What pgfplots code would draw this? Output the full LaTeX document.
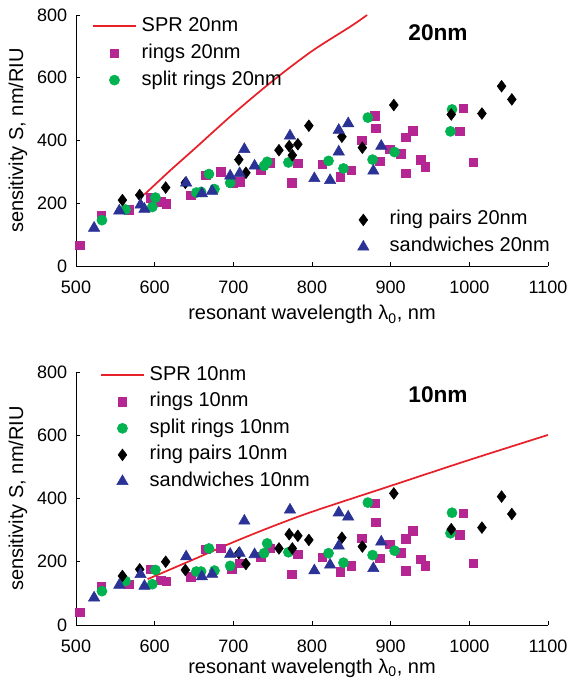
\documentclass[border=0pt]{standalone}
\usepackage{fontspec}
\setmainfont{Liberation Sans}
\usepackage{pgfplots}
\pgfplotsset{compat=1.18}
\definecolor{mag}{RGB}{182,38,146}
\definecolor{grn}{RGB}{0,178,80}
\definecolor{blu}{RGB}{43,50,150}
\definecolor{sprred}{RGB}{232,32,42}
\pgfplotsset{
  common/.style={
    scale only axis, width=354pt,
    xmin=500, xmax=1100, ymin=0, ymax=800,
    xtick={500,600,...,1100}, ytick={0,200,...,800},
    axis x line*=bottom, axis y line*=left,
    tick align=inside, major tick length=3pt,
    axis line style={black, line width=0.6pt},
    tick style={black, line width=0.6pt},
    /pgf/number format/assume math mode=true,
    /pgf/number format/1000 sep={},
    tick label style={font=\fontsize{13.5}{16}\selectfont, inner sep=0pt},
    xticklabel style={anchor=base, yshift=-21pt},
    yticklabel style={anchor=east, xshift=-6.5pt},
    label style={font=\fontsize{15}{18}\selectfont},
    xlabel={resonant wavelength λ\textsubscript{0}, nm},
    ylabel={sensitivity S, nm/RIU},
    xlabel style={at={(axis description cs:0.5,0)}, anchor=base, yshift=-40.5pt},
    ylabel style={at={(axis description cs:0,0.5)}, anchor=center, yshift=43.5pt},
    legend image code/.code={\path[draw=none,fill=none] (0pt,-1pt) rectangle (32pt,1pt);\draw[mark repeat=2,mark phase=2,##1] plot coordinates {(0pt,0pt)(16pt,0pt)(32pt,0pt)};},
    legend cell align=left,
    legend style={draw=none, fill=none, inner sep=0pt, column sep=3.75pt,
      font=\fontsize{15}{18}\selectfont,
      nodes={inner sep=0pt, text height=10.5pt, text depth=3pt}},
  },
  rings/.style={only marks, mark=square*, mark size=3.2pt, mark options={draw=mag, fill=mag}},
  split/.style={only marks, mark=*, mark size=3.8pt, mark options={draw=grn, fill=grn}},
  pairs/.style={only marks, mark=diamond*, mark size=4.4pt, mark options={draw=black, fill=black}},
  sand/.style={only marks, mark=triangle*, mark size=4.9pt, mark options={draw=blu, fill=blu}},
  spr/.style={no marks, smooth, color=sprred, line width=1.3pt},
}
\begin{document}
\begin{tikzpicture}
\useasboundingbox (0pt,0pt) rectangle (427.5pt,510pt);
% ---------- top panel ----------
\begin{axis}[common, at={(57pt,310.5pt)}, anchor=south west, height=188.25pt,
  legend style={at={(axis description cs:0,1)}, anchor=north west, xshift=12pt, yshift=-1.4pt, row sep=6.75pt}]
\addplot[spr] coordinates {(587,228)(620,305)(650,372)(700,485)(750,590)(800,685)(850,765)(870,800)};
\addlegendentry{SPR 20nm}
\addplot[rings] coordinates {(505,66)(532,162)(567,180)(595,218)(608,205)(615,199)(646,225)(665,289)(684,300)(699,263)(708,268)(735,307)(746,329)(774,266)(782,327)(813,324)(836,284)(850,305)(863,401)(880,478)(881,439)(886,334)(899,372)(913,358)(919,410)(919,295)(928,431)(938,339)(944,316)(988,430)(992,502)(1005,330)};
\addlegendentry{rings 20nm}
\addplot[split] coordinates {(533,146)(563,180)(597,188)(601,218)(653,234)(659,236)(669,293)(676,245)(696,265)(739,319)(743,332)(770,330)(821,335)(840,311)(871,473)(877,339)(905,363)(976,429)(978,499)};
\addlegendentry{split rings 20nm}
\addplot[pairs, forget plot] coordinates {(559,210)(581,226)(614,250)(639,265)(707,339)(716,297)(758,369)(771,382)(775,353)(782,388)(796,447)(838,412)(864,377)(904,513)(977,483)(1016,486)(1041,573)(1054,531)};
\addplot[sand, forget plot] coordinates {(523,121)(555,176)(582,195)(587,181)(640,265)(660,231)(673,239)(696,287)(708,295)(714,372)(727,319)(772,415)(803,279)(823,273)(834,364)(834,433)(846,454)(878,303)(888,382)};
\node[font=\bfseries\fontsize{17}{20}\selectfont] at (rel axis cs:0.767,0.928) {20nm};
\end{axis}
\begin{axis}[common, at={(57pt,310.5pt)}, anchor=south west, height=188.25pt, hide axis,
  legend style={at={(axis description cs:0,0)}, anchor=south west, xshift=199.3pt, yshift=7.35pt, row sep=6.75pt}]
\addlegendimage{pairs}
\addlegendentry{ring pairs 20nm}
\addlegendimage{sand}
\addlegendentry{sandwiches 20nm}
\end{axis}
% ---------- bottom panel ----------
\begin{axis}[common, at={(57pt,41.25pt)}, anchor=south west, height=189.75pt,
  xlabel style={yshift=4pt},
  legend style={at={(axis description cs:0,1)}, anchor=north west, xshift=18pt, yshift=4.5pt, row sep=6.4pt}]
\addplot[spr] coordinates {(591,145)(650,208)(700,262)(750,312)(800,358)(900,440)(1000,522)(1100,601)};
\addlegendentry{SPR 10nm}
\addplot[rings] coordinates {(505,40)(532,121)(567,129)(595,176)(608,142)(615,138)(646,153)(665,239)(684,242)(698,176)(708,195)(735,216)(746,242)(774,160)(782,223)(813,214)(836,169)(850,187)(863,274)(880,385)(881,325)(886,211)(899,255)(913,229)(919,272)(919,171)(928,298)(938,208)(944,188)(988,285)(992,353)(1005,195)};
\addlegendentry{rings 10nm}
\addplot[split] coordinates {(533,107)(563,139)(597,129)(601,174)(653,169)(659,169)(669,242)(676,172)(696,187)(739,227)(743,258)(770,230)(821,227)(840,197)(871,387)(877,221)(905,235)(976,290)(978,355)};
\addlegendentry{split rings 10nm}
\addplot[pairs] coordinates {(559,155)(581,176)(614,200)(639,174)(707,227)(716,193)(758,242)(771,287)(775,242)(782,282)(796,269)(838,276)(864,248)(904,416)(977,303)(1016,308)(1041,406)(1054,351)};
\addlegendentry{ring pairs 10nm}
\addplot[sand] coordinates {(523,86)(555,126)(582,160)(587,123)(640,216)(660,153)(673,161)(696,224)(708,227)(714,329)(727,223)(772,364)(803,172)(823,190)(834,250)(834,355)(846,342)(878,179)(888,263)};
\addlegendentry{sandwiches 10nm}
\node[font=\bfseries\fontsize{17}{20}\selectfont] at (rel axis cs:0.767,0.909) {10nm};
\end{axis}
\end{tikzpicture}
\end{document}
